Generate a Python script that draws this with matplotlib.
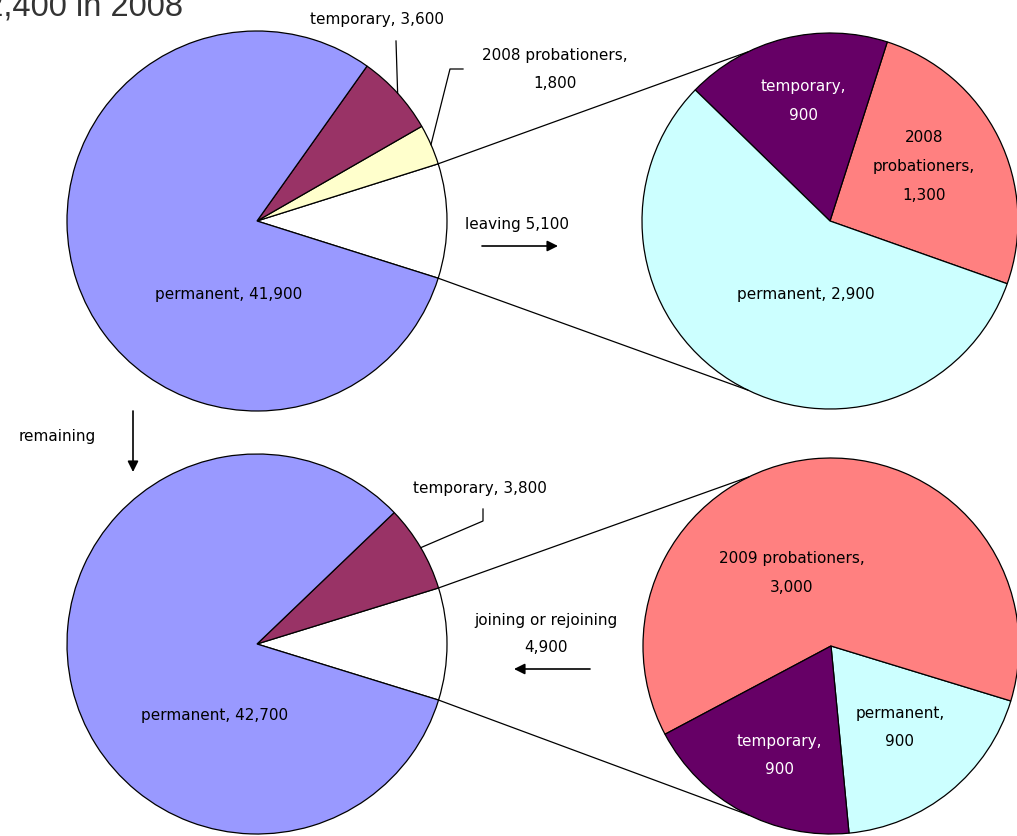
import numpy as np
import matplotlib.pyplot as plt

# staff in 2008: who left, and where the 2009 pool came from
top_labels = ["leaving", "2008 probationers", "temporary", "permanent"]
top_values = [5100, 1800, 3600, 41900]

leave_labels = ["2008 probationers", "temporary", "permanent"]
leave_values = [1300, 900, 2900]

bot_labels = ["joining or rejoining", "temporary", "permanent"]
bot_values = [4900, 3800, 42700]

join_labels = ["permanent", "2009 probationers", "temporary"]
join_values = [900, 3000, 900]

title_text = "52,400 in 2008"

top_colors = ["white", "#FFFFCC", "#993366", "#9999FF"]
leave_colors = ["#FF8080", "#660066", "#CCFFFF"]
bot_colors = ["white", "#993366", "#9999FF"]
join_colors = ["#CCFFFF", "#FF8080", "#660066"]

W, H = 1017, 837
FS = 11

fig = plt.figure(figsize=(W / 100, H / 100), dpi=100)
ax = fig.add_axes([0, 0, 1, 1])


def Y(y):
    # image rows (top down) -> data y (bottom up)
    return H - y


def draw_pie(values, colors, cx, cy, r, start):
    wedges, _ = ax.pie(values, colors=colors, center=(cx, Y(cy)), radius=r,
                       startangle=start, counterclock=True,
                       wedgeprops=dict(edgecolor="black", linewidth=0.9))
    return wedges


def rim(cx, cy, r, deg):
    a = np.deg2rad(deg)
    return cx + r * np.cos(a), Y(cy) + r * np.sin(a)


def mid(w):
    return 0.5 * (w.theta1 + w.theta2)


def label(x, y, lines, color="black", step=29):
    for i, s in enumerate(lines):
        ax.text(x, Y(y + i * step), s, ha="center", va="center",
                fontsize=FS, color=color)


# geometry of the four pies (pixel units)
TL = (257, 222, 190)
TR = (830, 222, 188)
BL = (257, 645, 190)
BR = (831, 647, 188)

tl_start = -top_values[0] / sum(top_values) * 360 / 2
bl_start = -bot_values[0] / sum(bot_values) * 360 / 2

w_tl = draw_pie(top_values, top_colors, TL[0], TL[1], TL[2], tl_start)
w_tr = draw_pie(leave_values, leave_colors, TR[0], TR[1], TR[2], -19.5)
w_bl = draw_pie(bot_values, bot_colors, BL[0], BL[1], BL[2], bl_start)
w_br = draw_pie(join_values, join_colors, BR[0], BR[1], BR[2], 275.5)

# series lines from the split slice to the secondary pie
for prim, sec, w in [(TL, TR, w_tl[0]), (BL, BR, w_bl[0])]:
    for a1, a2 in [(w.theta2, 116), (w.theta1, -116)]:
        x1, y1 = rim(*prim, a1)
        x2, y2 = rim(*sec, a2)
        ax.plot([x1, x2], [y1, y2], color="black", lw=0.9, zorder=3)

# leader lines
x0, y0 = rim(*TL, mid(w_tl[2]))
ax.plot([x0, 396], [y0, Y(42)], color="black", lw=0.9)
x0, y0 = rim(*TL, mid(w_tl[1]))
ax.plot([x0, 450, 463], [y0, Y(70), Y(70)], color="black", lw=0.9)
x0, y0 = rim(*BL, mid(w_bl[1]))
ax.plot([x0, 483, 483], [y0, Y(522), Y(510)], color="black", lw=0.9)

# top-left labels
label(377, 19, [f"{top_labels[2]}, {top_values[2]:,}"])
label(555, 55, [f"{top_labels[1]},", f"{top_values[1]:,}"], step=28)
label(229, 295, [f"{top_labels[3]}, {top_values[3]:,}"])
label(517, 224, [f"{top_labels[0]} {top_values[0]:,}"])

# top-right labels
label(803, 87, [f"{leave_labels[1]},", f"{leave_values[1]:,}"], color="white")
label(924, 138, ["2008", "probationers,", f"{leave_values[0]:,}"])
label(806, 295, [f"{leave_labels[2]}, {leave_values[2]:,}"])

# bottom-left labels
label(57, 436, ["remaining"])
label(480, 489, [f"{bot_labels[1]}, {bot_values[1]:,}"])
label(215, 716, [f"{bot_labels[2]}, {bot_values[2]:,}"])
label(546, 621, [bot_labels[0], f"{bot_values[0]:,}"], step=27)

# bottom-right labels
label(792, 558, [f"{join_labels[1]},", f"{join_values[1]:,}"], step=30)
label(900, 714, [f"{join_labels[0]},", f"{join_values[0]:,}"], step=28)
label(779, 742, [f"{join_labels[2]},", f"{join_values[2]:,}"], color="white", step=28)

# flow arrows
arrow = dict(arrowstyle="-|>", color="black", lw=1.2, mutation_scale=16,
             shrinkA=0, shrinkB=0)
ax.annotate("", xy=(558, Y(247)), xytext=(482, Y(247)), arrowprops=arrow)
ax.annotate("", xy=(133, Y(473)), xytext=(133, Y(412)), arrowprops=arrow)
ax.annotate("", xy=(514, Y(670)), xytext=(590, Y(670)), arrowprops=arrow)

# title, clipped by the top-left corner as in the original
ax.text(183, Y(15), title_text, ha="right", va="baseline", fontsize=23.5,
        family="Liberation Sans", color="#333333")

ax.set_xlim(0, W)
ax.set_ylim(0, H)
ax.set_aspect("auto")
ax.axis("off")

fig.savefig("out.png", dpi=100)
